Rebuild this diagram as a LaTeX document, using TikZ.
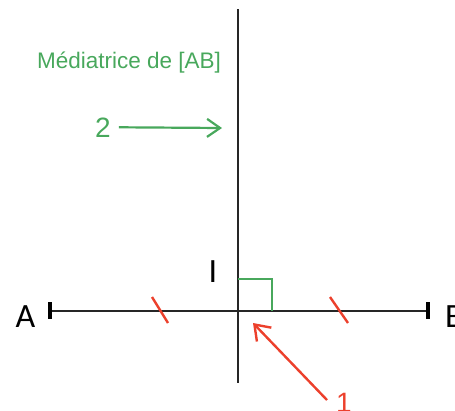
\documentclass[tikz,border=0pt]{standalone}
\usepackage{fontspec}
\setmainfont{Liberation Sans}
\newfontfamily\lblfont{Carlito}
\usetikzlibrary{arrows.meta}
\definecolor{medcol}{RGB}{72,168,92}
\definecolor{mrkcol}{RGB}{236,64,44}

\begin{document}
\begin{tikzpicture}[x=1pt,y=-1pt,
  seg/.style={line width=2.6pt,black!85},
  lbl/.style={inner sep=0pt,font=\lblfont\fontsize{34}{34}\selectfont},
  redmk/.style={mrkcol,line width=2.4pt},
  grn/.style={medcol,line width=2.2pt}]
\useasboundingbox (0,0) rectangle (455,410);
\coordinate (A) at (50,311); \coordinate (B) at (428,311);
\coordinate (I) at (238,311);
\coordinate (top) at (238,9); \coordinate (bot) at (238,383);
\draw[seg] (A) -- (B);
\draw[seg] (top) -- (bot);
\draw[line width=4pt] (50,302) -- (50,319); \draw[line width=4pt] (428,302) -- (428,319);
\node[lbl,anchor=center] (labA) at (25.5,316.5) {A};
\node[lbl,anchor=west] (labB) at (445,316.5) {B};
\node[lbl,anchor=center] (labI) at (213,271.5) {I};
\draw[grn] (238,279) -| (272,311);
\draw[redmk] (152,297) -- (168,323); \draw[redmk] (330,297) -- (348,323);
\node[medcol,inner sep=0pt,anchor=base west,font=\fontsize{22.5}{22.5}\selectfont] (med) at (37,68) {Médiatrice de [AB]};
\node[medcol,inner sep=0pt,anchor=base west,font=\fontsize{28}{28}\selectfont] (two) at (95,137) {2};
\coordinate (tip2) at (222,128);
\draw[grn,shorten <=8pt,-{Straight Barb[length=13pt,width=18pt]}] (two.east) -- (tip2);
\node[redmk,inner sep=0pt,anchor=north west,font=\fontsize{28}{28}\selectfont] (one) at (335,392) {1};
\coordinate (tip1) at (253,323);
\draw[redmk,-{Straight Barb[length=14pt,width=20pt]}] ([shift={(-8,8)}]one.north west) -- (tip1);
\end{tikzpicture}
\end{document}
